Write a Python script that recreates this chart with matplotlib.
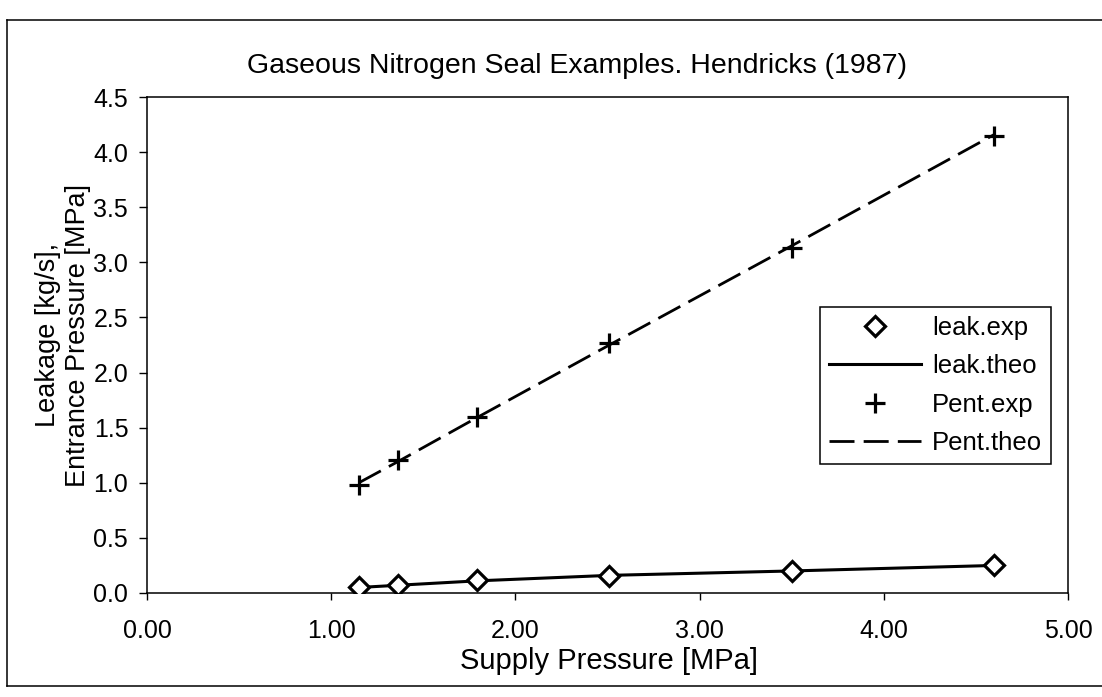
import matplotlib
matplotlib.use("Agg")
import matplotlib.pyplot as plt
from matplotlib.lines import Line2D

plt.rcParams['font.family'] = ['Liberation Sans', 'DejaVu Sans']

# ---- data ----
supply = [1.15, 1.36, 1.79, 2.51, 3.50, 4.60]
leak_exp = [0.055, 0.075, 0.115, 0.155, 0.20, 0.25]
leak_theo = [0.05, 0.07, 0.11, 0.16, 0.20, 0.25]
pent_exp = [0.98, 1.21, 1.60, 2.27, 3.13, 4.15]
pent_theo = [1.00, 1.19, 1.59, 2.25, 3.15, 4.16]

xticks = [0, 1, 2, 3, 4, 5]
xticklabels = ["0.00", "1.00", "2.00", "3.00", "4.00", "5.00"]
yticks = [0.0, 0.5, 1.0, 1.5, 2.0, 2.5, 3.0, 3.5, 4.0, 4.5]
yticklabels = ["0.0", "0.5", "1.0", "1.5", "2.0", "2.5", "3.0", "3.5", "4.0", "4.5"]

title = "Gaseous Nitrogen Seal Examples. Hendricks (1987)"
xlabel = "Supply Pressure [MPa]"
ylabel = "Leakage [kg/s],\nEntrance Pressure [MPa]"

W, H = 1102, 697
fig = plt.figure(figsize=(W / 100, H / 100), dpi=100)
ax = fig.add_axes([147 / W, 1 - 593 / H, 921 / W, 496 / H])

ax.plot(supply, leak_exp, linestyle='none', marker='D', markersize=10,
        markerfacecolor='white', markeredgecolor='black', markeredgewidth=2.3,
        label='leak.exp', zorder=4)
ax.plot(supply, leak_theo, color='black', linewidth=2.2, label='leak.theo', zorder=3)
ax.plot(supply, pent_exp, linestyle='none', marker='+', markersize=14,
        color='black', markeredgewidth=2.3, label='Pent.exp', zorder=4)
ax.plot(supply, pent_theo, color='black', linewidth=2.0, dashes=(9, 3.3),
        label='Pent.theo', zorder=3)

ax.set_xlim(0, 5)
ax.set_ylim(0, 4.5)
ax.set_xticks(xticks)
ax.set_xticklabels(xticklabels)
ax.set_yticks(yticks)
ax.set_yticklabels(yticklabels)
ax.tick_params(axis='x', direction='out', length=5, width=1, pad=14, labelsize=18)
ax.tick_params(axis='y', direction='out', length=5.5, width=1, pad=8, labelsize=18)
for s in ax.spines.values():
    s.set_linewidth(1.1)
    s.set_color('black')

leg = ax.legend(loc='upper left', bbox_to_anchor=(820 / W, 1 - 307 / H),
                bbox_transform=fig.transFigure, fontsize=18.5, frameon=True,
                fancybox=False, edgecolor='black', framealpha=1,
                borderpad=0.35, handlelength=3.6, handletextpad=0.4,
                labelspacing=0.56, numpoints=1, borderaxespad=0)
leg.get_frame().set_linewidth(1.1)

fig.text(577 / W, 1 - 66 / H, title, ha='center', va='center', fontsize=20.5)
fig.text(609 / W, 1 - 661 / H, xlabel, ha='center', va='center', fontsize=21)
fig.text(63 / W, 1 - 335 / H, ylabel, ha='center', va='center', fontsize=19.5,
         rotation=90, linespacing=1.2)

# outer frame (right edge lies outside the picture)
for xs, ys in [([7, 7], [20, 686]), ([7, W + 5], [20, 20]), ([7, W + 5], [686, 686])]:
    fig.add_artist(Line2D([x / W for x in xs], [1 - y / H for y in ys],
                          transform=fig.transFigure, color='black', linewidth=1.1))

fig.savefig("out.png", dpi=100)
